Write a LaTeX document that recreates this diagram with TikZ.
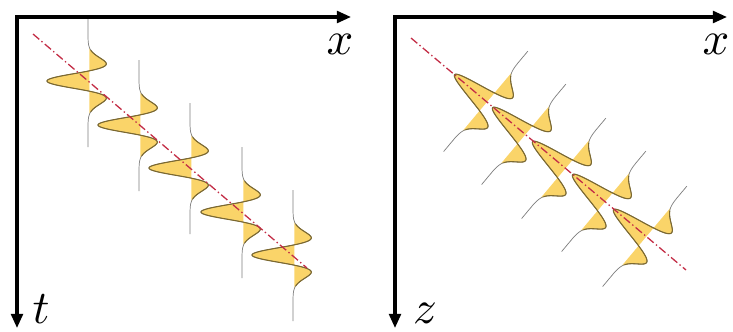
\documentclass[tikz,border=0pt]{standalone}
\usetikzlibrary{arrows.meta}
\definecolor{wfill}{RGB}{250,212,105}
\definecolor{wline}{RGB}{125,105,45}
\definecolor{tline}{RGB}{125,125,125}
\definecolor{redline}{RGB}{195,45,70}
\tikzset{
  axis/.style={line width=2.6pt, line join=miter, {Triangle[length=12pt,width=10pt]}-{Triangle[length=12pt,width=10pt]}},
  axlabel/.style={inner sep=0pt, scale=4},
  trace/.style={draw=tline, line width=0.6pt},
  lobe/.style={draw=wline, line width=0.9pt},
  lobefill/.style={fill=wfill},
  guide/.style={draw=redline, line width=1.1pt, dash pattern=on 7pt off 2.5pt on 1.2pt off 2.5pt},
}
% #1,#2 centre, #3 rotation, #4 width parameter
\newcommand{\wavelet}[4]{%
  \begin{scope}[shift={(#1,#2)}, rotate=#3]
    \fill[lobefill] plot[domain=-2.4*#4:2.4*#4, samples=97, variable=\s] ({-41*(1-2*(\s/#4)*(\s/#4))*exp(-(\s/#4)*(\s/#4))}, \s) -- cycle;
    \draw[trace] plot[domain=-65:66, samples=200, variable=\s] ({-41*(1-2*(\s/#4)*(\s/#4))*exp(-(\s/#4)*(\s/#4))}, \s);
    \draw[lobe] plot[domain=-2.2*#4:2.2*#4, samples=121, variable=\s] ({-41*(1-2*(\s/#4)*(\s/#4))*exp(-(\s/#4)*(\s/#4))}, \s);
  \end{scope}}
\begin{document}
\begin{tikzpicture}[x=0.03cm, y=-0.03cm]
  \useasboundingbox (0,0) rectangle (733,331);
  % left panel
  \coordinate (O1) at (17,17);
  \coordinate (X1) at (351,17);
  \coordinate (T1) at (17,328);
  \wavelet{88}{81}{0}{14}
  \wavelet{139}{125}{0}{14}
  \wavelet{190}{168}{0}{14}
  \wavelet{242}{212}{0}{14}
  \wavelet{293}{255}{0}{14}
  \coordinate (R1a) at (33,34);
  \coordinate (R1b) at (307,268);
  \draw[guide] (R1a) -- (R1b);
  \draw[axis] (T1) -- (O1) -- (X1);
  \node[axlabel] (xl1) at (340,44) {$x$};
  \node[axlabel] (tl) at (41,309) {$t$};
  % right panel
  \coordinate (O2) at (395,17);
  \coordinate (X2) at (727,17);
  \coordinate (T2) at (395,328);
  \wavelet{486}{101}{-40}{16}
  \wavelet{524}{134}{-40}{16}
  \wavelet{564}{168}{-40}{16}
  \wavelet{604}{201}{-40}{16}
  \wavelet{645}{236}{-40}{16}
  \coordinate (R2a) at (411,38);
  \coordinate (R2b) at (686,270);
  \draw[guide] (R2a) -- (R2b);
  \draw[axis] (T2) -- (O2) -- (X2);
  \node[axlabel] (xl2) at (716,44) {$x$};
  \node[axlabel] (zl) at (425,313) {$z$};
\end{tikzpicture}
\end{document}
